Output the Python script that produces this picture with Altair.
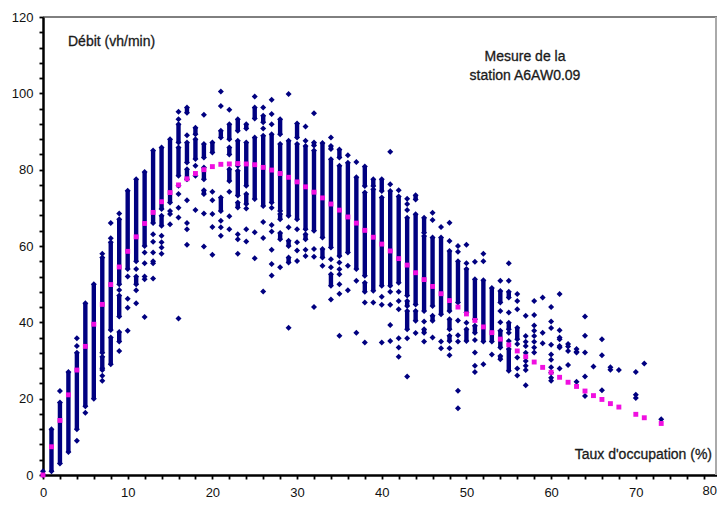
import altair as alt
import pandas as pd

FONT = "Liberation Sans"

# mean curve (pink squares)
mean_x = list(range(0, 69)) + [70, 71, 73]
mean_y = [0, 7.4, 14.3, 21, 27.5, 33.7, 39.5, 44.7, 49.9, 54.5, 58.6, 62.4, 65.9, 68.8, 71.6, 74, 76,
          77.6, 79, 80, 80.8, 81.4, 81.5, 81.6, 81.5, 81.3, 80.6, 79.9, 79, 78, 76.8, 75.5, 74.1, 72.6,
          71, 69.4, 67.6, 66, 64.1, 62.3, 60.5, 58.7, 56.7, 55, 53, 51.2, 49.4, 47.5, 45.7, 44, 42.2,
          40.5, 38.8, 37.3, 35.6, 34.1, 32.5, 31, 29.6, 28.2, 26.9, 25.6, 24.3, 23.2, 22, 20.8, 19.8,
          18.7, 17.8, 15.9, 15, 13.5]

# continuous runs of measurements: (occupation, lowest, highest)
bands = [
    (1, 1, 12), (2, 3, 19), (3, 6, 27), (4, 12, 32), (5, 18, 45), (6, 20, 50), (7, 28, 31), (7, 32, 57),
    (8, 29, 36), (8, 38, 61), (9, 35, 37.5), (9, 41.5, 47), (9, 50, 67), (10, 54, 74.5), (11, 50, 52),
    (11, 56, 77.5), (12, 60, 79.4), (13, 66, 85), (14, 65.3, 67.9), (14, 69.7, 85.8), (15, 71.4, 88),
    (16, 87.1, 91.9), (16, 78.4, 85.8), (17, 94.9, 96.3), (17, 81.9, 87.1), (17, 77.5, 80.1),
    (18, 89.3, 91), (18, 82.8, 88), (19, 83.2, 86.7), (19, 77.5, 80.6), (19, 73.6, 74.6),
    (20, 84.5, 87.1), (21, 88.4, 90.2), (21, 69.2, 72.7), (22, 88, 91.9), (22, 84, 85.8), (22, 77, 80.1),
    (23, 90.2, 93.2), (23, 81, 87.6), (23, 73.2, 79.7), (23, 70.1, 71.4), (24, 90.8, 91.9),
    (24, 75.8, 87.1), (24, 71, 73.6), (25, 93.4, 96.3), (25, 72.3, 88.4), (26, 92.4, 94.1),
    (26, 70.5, 88.9), (27, 71.4, 89.3), (28, 89.3, 93.2), (28, 69.2, 86.7), (28, 67, 68.4),
    (28, 61.8, 63.4), (29, 67.9, 87.6), (29, 60, 61.4), (29, 55.7, 57), (30, 88.4, 92.1), (30, 67, 86.7),
    (31, 64.4, 86.2), (31, 61.8, 63.1), (32, 86.3, 87.1), (32, 64, 85), (33, 62.2, 87), (33, 57, 59.2),
    (34, 85.4, 86.2), (34, 59.6, 82.7), (34, 49.6, 52.6), (35, 83.2, 85.3), (35, 57.4, 81),
    (36, 58.3, 81.8), (37, 54, 78), (38, 75.7, 80.8), (38, 52.2, 74), (38, 48, 50.4), (39, 75.7, 77.5),
    (39, 48.3, 74.9), (40, 74.4, 77.5), (40, 49.6, 72.7), (41, 49.6, 74.4), (42, 50.4, 73),
    (43, 47, 67.4), (43, 44.3, 45.6), (43, 38.2, 43), (44, 72.2, 73.3), (44, 44.7, 68.3), (44, 40.4, 43),
    (45, 63.5, 67.4), (45, 43, 62.6), (45, 37.3, 38.2), (46, 44.3, 62.2), (46, 40.4, 41.7),
    (47, 42.1, 62.2), (48, 43, 58.7), (48, 38.2, 40.8), (48, 35.1, 36.5), (49, 45.2, 56),
    (50, 42.6, 54), (50, 35.1, 38.2), (51, 40.8, 51.3), (51, 37.3, 39.1), (52, 35, 51), (53, 35, 49),
    (54, 45.2, 48.2), (54, 33.4, 37.8), (54, 30.3, 31.2), (55, 46.5, 48), (55, 38.2, 39.9), (55, 27.3, 33),
    (56, 35.6, 38.6),
]

# isolated measurements per occupation value
dots = {
    0: [0, 1], 2: [22], 4: [9, 33.8, 35.8], 5: [16.3], 7: [24.7, 26, 27.5, 58], 8: [62, 66],
    9: [32.5, 48.5, 68.5], 10: [37.8, 43.8, 46.2, 52], 11: [45, 48.4, 54],
    12: [41.4, 51.3, 52, 55.5, 58.3], 13: [51.5, 55.5, 56, 58.3, 61.1, 63.1],
    14: [58, 59.6, 61, 62.7], 15: [65.7, 68.4, 69.2], 16: [41, 67.5, 70, 73.6, 75.8, 93.2, 95.2],
    17: [60.3, 64.4, 66, 72, 89], 18: [69.4, 78.4, 81], 19: [59.9, 68.5, 94.4],
    20: [57.7, 65, 68.4, 72, 74.2], 21: [62.7, 64.9, 66.6, 96.7, 100.5], 22: [64.4, 67.8, 74.2, 95.7],
    23: [58, 61.8, 63.1], 24: [61.2, 64.4, 69.8], 25: [56.8, 63.6, 99.2], 26: [48.1, 62.1, 66.3, 90.8, 96.3],
    27: [52.3, 55.3, 59, 63.8, 65.5, 70, 91.9, 94.6, 98.3], 28: [54.4], 29: [38.6, 64.9, 99.8],
    30: [56.1, 58.8, 61, 64.4], 31: [57.4, 59, 87.6, 91.3], 32: [44, 57.2, 59.2, 94.8], 33: [54.8],
    34: [46, 54.4, 56.5, 88.4], 35: [36.5, 47.5, 50, 52.6, 53.9, 55.7], 36: [48.4, 54.8, 83.8],
    37: [37.3, 50.9, 82], 38: [34.7, 45.2], 39: [45.2], 40: [34.7, 44.6, 46.7],
    41: [35.1, 39.3, 44.6, 48, 76.2, 84.7], 42: [31, 33.4, 35.8, 43.4, 45.6, 48, 74.6],
    43: [25.8, 35.8, 69.4, 71, 72.4], 44: [37.2], 45: [35, 40.2], 46: [36, 66.8, 68.7], 47: [33.2, 35, 65],
    48: [31.4, 33.2, 61.3, 66.1], 49: [17.5, 22.1, 35, 36.6, 40.5, 58.5, 60], 50: [39.9, 55.5, 60.3],
    51: [27, 28.6, 32.1, 35.4, 55.9], 52: [29, 56, 58], 53: [31.6], 54: [40, 43, 50.9],
    55: [35.1, 37.3, 42.6, 50.9, 55.5], 56: [26.1, 27.9, 30.8, 34.3, 43.4, 45.6, 47.4],
    57: [23.5, 27.5, 28.6, 29.9, 32, 33.8, 34.9, 36.4, 41.7], 58: [32.1, 33.4, 34.9, 36.4, 37.8, 39.2, 41.9, 45.6],
    59: [34.5, 37.3, 46.5], 60: [24.7, 25.5, 26.8, 28.2, 30.2, 31.6, 34.1, 38.5, 40.2, 44],
    61: [27.9, 33.4, 33.8, 35.6, 36, 37.9, 47.4], 62: [28.8, 32.5, 33.7, 34.3], 63: [24.4, 32.1, 32.3, 33],
    64: [20.7, 25.8, 32.1, 36.5, 41.5], 65: [28.4], 66: [22.2, 31.4, 35.6], 67: [27.6, 28.2], 68: [27.5],
    70: [20.2, 21, 27], 71: [29.2], 73: [14.6],
}

x_ticks = list(range(0, 81, 2))
y_ticks = list(range(0, 121, 4))

W, H = 674, 458

band_df = pd.DataFrame(bands, columns=["x", "lo", "hi"])
dot_rows = [(x, y) for x, ys in dots.items() for y in ys]
dot_rows += [(x, lo) for x, lo, hi in bands] + [(x, hi) for x, lo, hi in bands]
dot_df = pd.DataFrame(dot_rows, columns=["x", "y"])
mean_df = pd.DataFrame({"x": mean_x, "y": mean_y})

xs = alt.Scale(domain=[0, 80], nice=False, zero=False, range=[0, 677.5])
ys = alt.Scale(domain=[0, 120], nice=False, zero=False)
axis_common = dict(title=None, grid=False, domainColor="black", domainWidth=2.5, tickColor="black",
                   tickWidth=1.8, tickSize=4, labelFont=FONT, labelFontSize=13, labelColor="#111111",
                   labelOverlap=False, labelBound=False, labelFlush=False)
x_axis = alt.Axis(values=x_ticks, labelExpr="datum.value % 10 === 0 && datum.value < 80 ? datum.label : ''",
                  labelPadding=7, labelAngle=0, **axis_common)
y_axis = alt.Axis(values=y_ticks, labelExpr="datum.value % 20 === 0 ? datum.label : ''", labelPadding=6,
                  **axis_common)
X = alt.X("x:Q", scale=xs, axis=x_axis)

top = alt.Chart(mean_df.head(1)).mark_rule(color="black", strokeWidth=1).encode(
    x=alt.value(0), x2=alt.value(W), y=alt.value(0))
right = alt.Chart(mean_df.head(1)).mark_rule(color="#aaaaaa", strokeWidth=2).encode(
    x=alt.value(W - 1), y=alt.value(0), y2=alt.value(H))

band_layer = alt.Chart(band_df).mark_rule(color="#000080", strokeWidth=4.4).encode(
    x=X,
    y=alt.Y("lo:Q", scale=ys, axis=y_axis),
    y2="hi:Q",
)
dot_layer = alt.Chart(dot_df).mark_point(shape="diamond", filled=True, color="#000080", size=36, opacity=1).encode(
    x=X, y=alt.Y("y:Q", scale=ys, axis=y_axis))
mean_layer = alt.Chart(mean_df).mark_point(shape="square", filled=True, color="#f00fe0", size=24, opacity=1).encode(
    x=X, y=alt.Y("y:Q", scale=ys, axis=y_axis))


def label(text, px, py, align="left"):
    return alt.Chart(mean_df.head(1)).mark_text(
        text=text, font=FONT, fontSize=14, color="#1a1a1a", stroke="#1a1a1a", strokeWidth=0.3,
        align=align, baseline="middle"
    ).encode(x=alt.value(px), y=alt.value(py))


last_tick = alt.Chart(mean_df.head(1)).mark_text(
    text="80", font=FONT, fontSize=13, color="#111111", align="right", baseline="middle"
).encode(x=alt.value(W), y=alt.value(H + 16))

chart = alt.layer(
    top, right, band_layer, dot_layer, mean_layer, last_tick,
    label("Débit (vh/min)", 25, 25),
    label("Mesure de la", 482, 40, "center"),
    label("station A6AW0.09", 482, 59, "center"),
    label("Taux d'occupation (%)", 669, 438, "right"),
).properties(
    width=W, height=H, autosize="none",
    padding={"left": 35, "top": 9, "right": 0, "bottom": 24},
).configure_view(stroke=None)

chart.save("out.html", embed_options={"renderer": "svg", "actions": False})
